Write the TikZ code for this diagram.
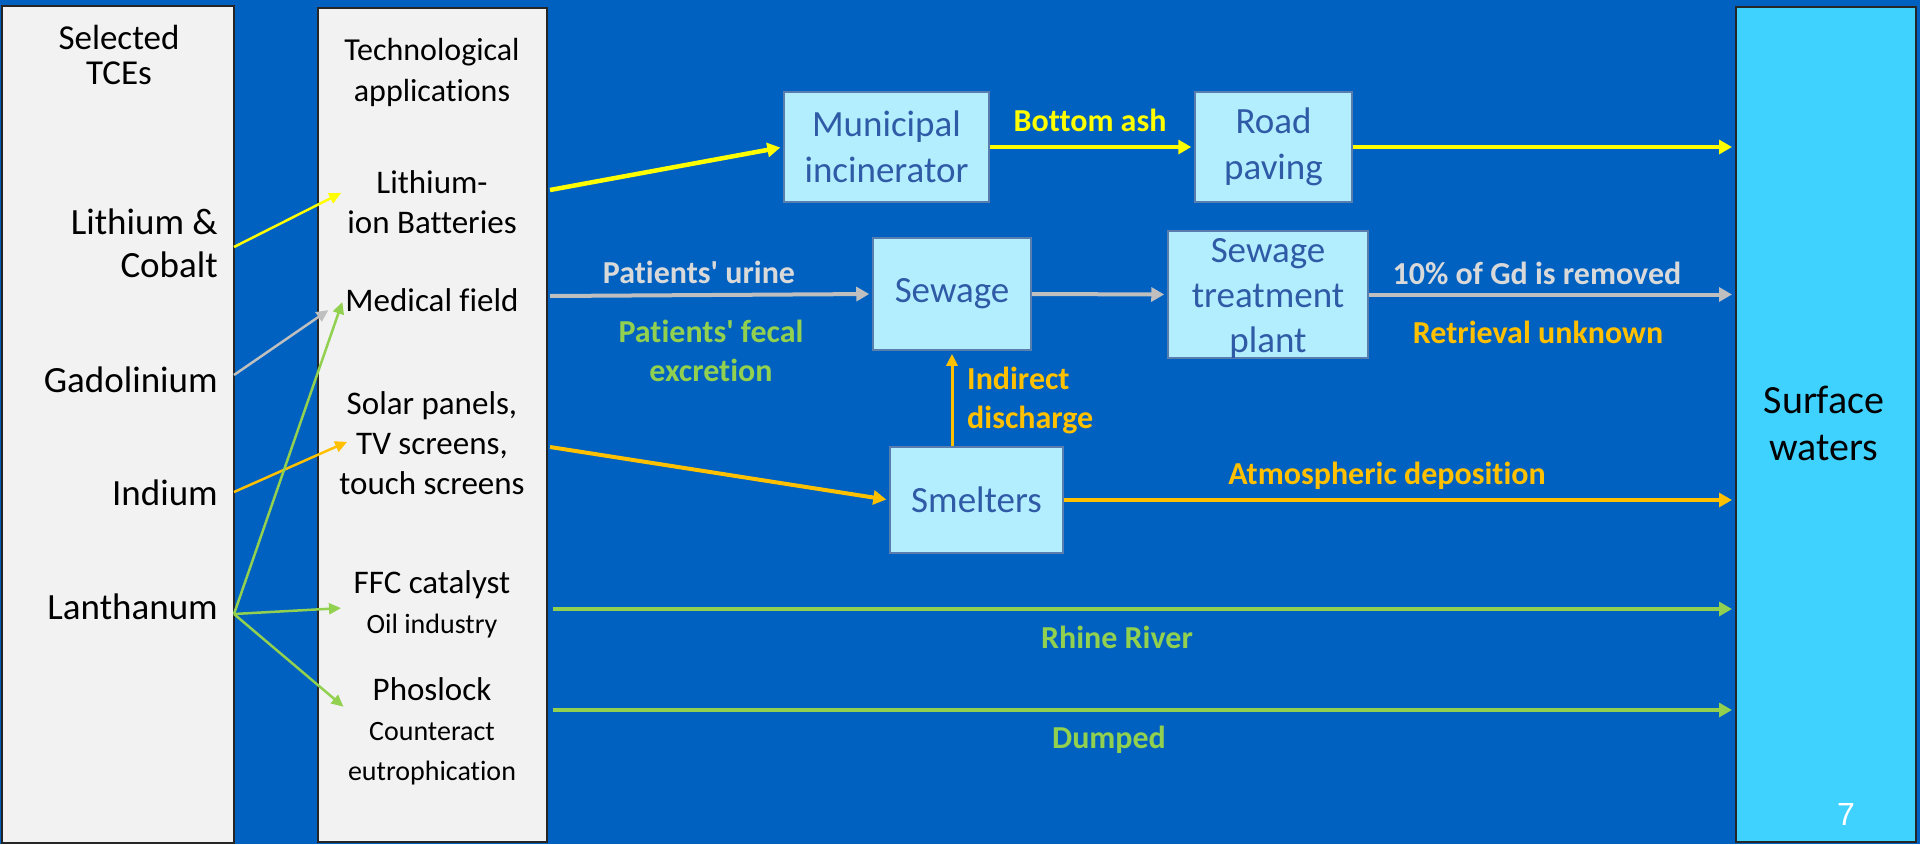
\documentclass[tikz,border=0pt]{standalone}
\usepackage{fontspec}
\setmainfont{Carlito}[Ligatures={TeXOff,CommonOff}]
\newfontfamily\arialf{Liberation Sans}
\usetikzlibrary{arrows.meta}
\definecolor{bgblue}{HTML}{0061C1}
\definecolor{panel}{HTML}{F2F2F2}
\definecolor{swater}{HTML}{40D2FF}
\definecolor{pbox}{HTML}{B3EEFF}
\definecolor{pboxline}{HTML}{5A7DB0}
\definecolor{ptext}{HTML}{2F5AA6}
\definecolor{ylw}{HTML}{FFFF00}
\definecolor{gry}{HTML}{BFBFBF}
\definecolor{lgry}{HTML}{D9D9D9}
\definecolor{grn}{HTML}{92D050}
\definecolor{orn}{HTML}{FFC000}
\newcommand\myfs[2]{\fontsize{#1}{#2}\selectfont}
\begin{document}
\begin{tikzpicture}[x=1pt,y=-1pt,
  panelbox/.style={draw=black!85,line width=2pt,fill=panel,inner sep=0pt},
  procbox/.style={draw=pboxline,line width=1.5pt,fill=pbox,inner sep=0pt,text=ptext,align=center,font=\myfs{37}{46}},
  tcetxt/.style={inner sep=0pt,align=right,anchor=east,font=\myfs{37}{43}},
  apptxt/.style={inner sep=0pt,align=center,font=\myfs{33}{40}},
  lbl/.style={inner sep=0pt,align=center,font=\bfseries\myfs{32}{39}},
  thin/.style={line width=2.5pt,-{Triangle[length=12pt,width=11pt]},shorten >=2pt},
  thick/.style={line width=4.5pt,-{Triangle[length=13pt,width=14pt]},shorten >=3pt}
]
\useasboundingbox (0,0) rectangle (1920,844);
\fill[bgblue] (0,0) rectangle (1920,844);

% panels
\node[panelbox,minimum width=232pt,minimum height=837pt] (tce) at (118,424) {};
\node[panelbox,minimum width=229pt,minimum height=834pt] (app) at (432.5,425) {};
\node[draw=black!85,line width=2pt,fill=swater,inner sep=0pt,minimum width=180pt,minimum height=835pt] (sw) at (1826,424.5) {};

% left panel text
\node[inner sep=0pt,align=center,font=\myfs{35}{35}] (tcehead) at (119,55) {Selected\\TCEs};
\node[tcetxt] (li) at (218,243) {Lithium \&\\Cobalt};
\node[tcetxt] (gd) at (218,380) {Gadolinium};
\node[tcetxt] (ind) at (218,493) {Indium};
\node[tcetxt] (la) at (218,607) {Lanthanum};

% application panel text
\node[inner sep=0pt,align=center,font=\myfs{32}{41}] (apphead) at (432,72) {Technological\\applications};
\node[apptxt] (bat) at (432,202) {Lithium-\\ion Batteries};
\node[apptxt] (med) at (432,300) {Medical field};
\node[apptxt] (sol) at (432,443) {Solar panels,\\TV screens,\\touch screens};
\node[apptxt] (ffc) at (432,604) {FFC catalyst\\{\myfs{28}{38}Oil industry}};
\node[apptxt] (pho) at (432,731) {Phoslock\\{\myfs{28}{37}Counteract}\\{\myfs{28}{35}eutrophication}};

% process boxes
\node[procbox,minimum width=205pt,minimum height=110pt] (muni) at (886.5,147) {Municipal\\incinerator};
\node[procbox,minimum width=157pt,minimum height=110pt] (road) at (1273.5,147) {Road\\paving};
\node[procbox,minimum width=158pt,minimum height=112pt] (sew) at (952,294) {Sewage};
\node[procbox,minimum width=200pt,minimum height=127pt] (stp) at (1268,294.5) {};
\node[inner sep=0pt,align=center,text=ptext,font=\myfs{37}{45}] (stptxt) at (1268,298) {Sewage\\treatment\\plant};
\node[procbox,minimum width=173pt,minimum height=106pt] (smel) at (976.5,500) {Smelters};

% surface waters text
\node[inner sep=0pt,align=center,font=\myfs{40}{47}] (swtxt) at (1824,423) {Surface\\waters};
\node[inner sep=0pt,text=white,font=\arialf\myfs{32}{36}] (pg) at (1846,814) {7};

% coordinates for connector ends
\coordinate (liS) at (234,247);
\coordinate (gdS) at (234,375);
\coordinate (inS) at (234,492);
\coordinate (laS) at (234,614);
\coordinate (batT) at (343,192);
\coordinate (medT) at (330,309);
\coordinate (medT2) at (343,300);
\coordinate (solT) at (349,441);
\coordinate (ffcT) at (343,608);
\coordinate (phoT) at (345,708);
\coordinate (batS) at (550,190);
\coordinate (medS) at (550,296);
\coordinate (solS) at (550,447);
\coordinate (ffcS) at (553,609);
\coordinate (phoS) at (553,710);

% left connectors
\draw[thin,draw=ylw,fill=ylw] (liS) -- (batT);
\draw[thin,draw=gry,fill=gry] (gdS) -- (medT);
\draw[thin,draw=orn,fill=orn] (inS) -- (solT);
\draw[thin,draw=grn,fill=grn] (laS) -- (medT2);
\draw[thin,draw=grn,fill=grn] (laS) -- (ffcT);
\draw[thin,draw=grn,fill=grn] (laS) -- (phoT);

% yellow path
\draw[thick,draw=ylw] (batS) -- (muni.west);
\draw[thick,draw=ylw] (muni.east) -- (road.west);
\draw[thick,draw=ylw] (road.east) -- (sw.west |- road.east);
% grey path
\draw[thick,line width=4pt,draw=gry] (medS) -- (sew.west);
\draw[thick,line width=4pt,draw=gry] (sew.east) -- (stp.west);
\draw[thick,line width=4pt,draw=gry] (stp.east) -- (sw.west |- stp.east);
% orange path
\draw[thick,line width=4pt,draw=orn] (solS) -- (smel.west);
\draw[line width=3pt,draw=orn,-{Triangle[length=12pt,width=11pt]},shorten >=3pt] (smel.north -| sew.south) -- (sew.south);
\draw[thick,line width=4pt,draw=orn] (smel.east) -- (sw.west |- smel.east);
% green paths
\draw[thick,draw=grn] (ffcS) -- (sw.west |- ffcS);
\draw[thick,draw=grn] (phoS) -- (sw.west |- phoS);

% labels
\node[lbl,text=ylw] (lbash) at (1090,120) {Bottom ash};
\node[lbl,text=lgry] (lburine) at (699,272) {Patients' urine};
\node[lbl,text=grn] (lbfecal) at (711,351) {Patients' fecal\\excretion};
\node[lbl,text=lgry] (lbgd) at (1537,273) {10\% of Gd is removed};
\node[lbl,text=orn] (lbret) at (1538,332) {Retrieval unknown};
\node[lbl,text=orn,align=left,anchor=west] (lbind) at (967,400) {Indirect\\discharge};
\node[lbl,text=orn] (lbatm) at (1387,476) {Atmospheric deposition};
\node[lbl,text=grn] (lbrhine) at (1117,637) {Rhine River};
\node[lbl,text=grn] (lbdump) at (1109,740) {Dumped};
\end{tikzpicture}
\end{document}
